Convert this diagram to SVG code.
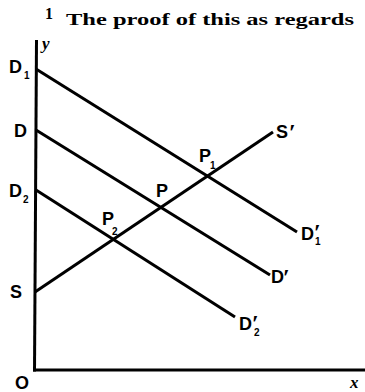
<svg xmlns="http://www.w3.org/2000/svg" width="365" height="392" viewBox="0 0 365 392">
<style>
.ln{stroke:#000;stroke-width:3;fill:none;stroke-linecap:butt}
.ax{stroke:#000;stroke-width:3;fill:none}
.lb{font-family:"Liberation Sans",Arial,sans-serif;font-weight:bold;font-size:18px;fill:#000}
.sb{font-family:"Liberation Sans",Arial,sans-serif;font-weight:bold;font-size:10px;fill:#000}
.pr{font-family:"Liberation Serif",serif;font-weight:bold;font-size:24px;fill:#000}
.it{font-family:"Liberation Serif","Times New Roman",serif;font-style:italic;font-weight:bold;font-size:17px;fill:#000}
.hd{font-family:"Liberation Serif","Times New Roman",serif;font-weight:bold;font-size:16px;fill:#000}
</style>
<rect width="365" height="392" fill="#fff"/>
<g id="header">
<text class="hd" x="45" y="19" font-size="11">1</text>
<text class="hd" x="66" y="25" textLength="288" lengthAdjust="spacingAndGlyphs">The proof of this as regards</text>
</g>
<g id="axes">
<line class="ax" x1="36.5" y1="40" x2="34.5" y2="371.5"/>
<line class="ax" x1="33" y1="370" x2="365" y2="370"/>
<text class="it" x="42" y="49">y</text>
<text class="it" x="350" y="388">x</text>
<text class="lb" x="15" y="389">O</text>
</g>
<g id="connectors">
<line id="c-D1" class="ln" x1="36" y1="69" x2="297" y2="232"/>
<line id="c-D" class="ln" x1="36" y1="130" x2="270" y2="275"/>
<line id="c-D2" class="ln" x1="36" y1="190" x2="235" y2="317"/>
<line id="c-S" class="ln" x1="35" y1="292" x2="273" y2="132"/>
</g>
<g id="D1"><text class="lb" x="9" y="73">D</text><text class="sb" x="24" y="79">1</text></g>
<g id="D"><text class="lb" x="14" y="137">D</text></g>
<g id="D2"><text class="lb" x="9" y="197">D</text><text class="sb" x="23" y="203">2</text></g>
<g id="S"><text class="lb" x="10" y="298">S</text></g>
<g id="S1"><text class="lb" x="276" y="138">S</text><text class="pr" x="289" y="140">′</text></g>
<g id="P1"><text class="lb" x="199" y="162">P</text><text class="sb" x="210" y="169">1</text></g>
<g id="P"><text class="lb" x="156" y="197">P</text></g>
<g id="P2"><text class="lb" x="102" y="225">P</text><text class="sb" x="112" y="235">2</text></g>
<g id="D1p"><text class="lb" x="301" y="240">D</text><text class="pr" x="314" y="240">′</text><text class="sb" x="315" y="245">1</text></g>
<g id="Dp"><text class="lb" x="271" y="283">D</text><text class="pr" x="283" y="285">′</text></g>
<g id="D2p"><text class="lb" x="239" y="330">D</text><text class="pr" x="252" y="331">′</text><text class="sb" x="254" y="336">2</text></g>
</svg>
